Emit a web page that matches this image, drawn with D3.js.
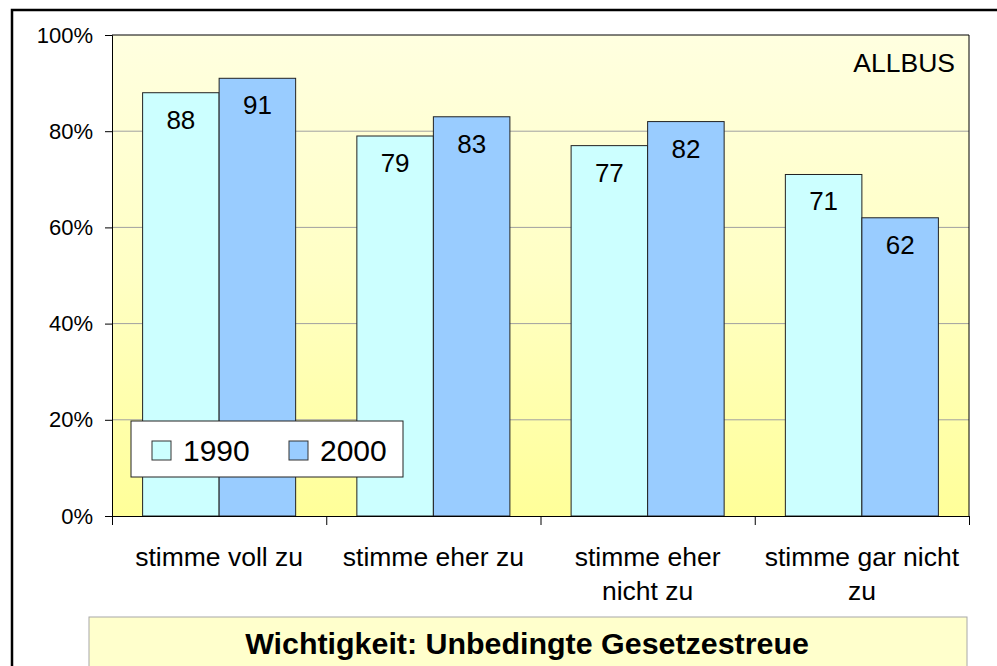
<!DOCTYPE html>
<html>
<head>
<meta charset="utf-8">
<script src="https://cdn.jsdelivr.net/npm/d3@7"></script>
<style>
  html, body { margin: 0; padding: 0; background: #fff; }
  svg { display: block; font-family: Arial, "Liberation Sans", sans-serif; }
</style>
</head>
<body>
<svg id="chart" width="997" height="666"></svg>
<script>
// Zustimmung zur unbedingten Gesetzestreue, ALLBUS 1990 und 2000 (in %)
const categories = [["stimme voll zu"], ["stimme eher zu"], ["stimme eher", "nicht zu"], ["stimme gar nicht", "zu"]];
const years = ["1990", "2000"];
const values1990 = [88, 79, 77, 71];
const values2000 = [91, 83, 82, 62];
const yTicks = [0, 20, 40, 60, 80, 100];
const sourceLabel = "ALLBUS";
const titleText = "Wichtigkeit: Unbedingte Gesetzestreue";

const colors = { "1990": "#CCFFFF", "2000": "#99CCFF" };
const seriesValues = { "1990": values1990, "2000": values2000 };

const svg = d3.select("#chart");

// Outer frame (left and top edges visible)
svg.append("rect")
  .attr("x", 12).attr("y", 10)
  .attr("width", 1100).attr("height", 800)
  .attr("fill", "none").attr("stroke", "#000").attr("stroke-width", 2.5);

const plot = { left: 112, right: 969, top: 35, bottom: 516 };

const x0 = d3.scaleBand()
  .domain(d3.range(categories.length))
  .range([plot.left, plot.right])
  .padding(0);

const x1 = d3.scaleBand()
  .domain(years)
  .range([0, x0.bandwidth()])
  .paddingInner(0)
  .paddingOuter(0.4);

const y = d3.scaleLinear().domain([0, 100]).range([plot.bottom, plot.top]);

// Background gradient of the plot area
const defs = svg.append("defs");
const grad = defs.append("linearGradient")
  .attr("id", "bg").attr("x1", 0).attr("y1", 0).attr("x2", 0).attr("y2", 1);
grad.append("stop").attr("offset", "0%").attr("stop-color", "#FFFFE0");
grad.append("stop").attr("offset", "50%").attr("stop-color", "#FFFFC4");
grad.append("stop").attr("offset", "100%").attr("stop-color", "#FFFF99");

svg.append("rect")
  .attr("x", plot.left).attr("y", plot.top)
  .attr("width", plot.right - plot.left).attr("height", plot.bottom - plot.top)
  .attr("fill", "url(#bg)");

// Horizontal grid lines
svg.append("g")
  .selectAll("line")
  .data(yTicks.filter(t => t > 0 && t < 100))
  .join("line")
  .attr("x1", plot.left).attr("x2", plot.right)
  .attr("y1", d => y(d)).attr("y2", d => y(d))
  .attr("stroke", "#A0A0A0").attr("stroke-width", 1);

// Bars
const groups = svg.append("g")
  .selectAll("g")
  .data(categories.map((c, i) => i))
  .join("g")
  .attr("transform", i => `translate(${x0(i)},0)`);

groups.selectAll("rect")
  .data(i => years.map(yr => ({ yr, v: seriesValues[yr][i] })))
  .join("rect")
  .attr("x", d => x1(d.yr))
  .attr("y", d => y(d.v))
  .attr("width", x1.bandwidth())
  .attr("height", d => y(0) - y(d.v))
  .attr("fill", d => colors[d.yr])
  .attr("stroke", "#222").attr("stroke-width", 1);

groups.selectAll("text")
  .data(i => years.map(yr => ({ yr, v: seriesValues[yr][i] })))
  .join("text")
  .attr("x", d => x1(d.yr) + x1.bandwidth() / 2)
  .attr("y", d => y(d.v) + 36)
  .attr("text-anchor", "middle")
  .attr("font-size", 26)
  .attr("fill", "#000")
  .text(d => d.v);

// Plot border (top and right)
svg.append("path")
  .attr("d", `M${plot.left},${plot.top}H${plot.right}V${plot.bottom}`)
  .attr("fill", "none").attr("stroke", "#000").attr("stroke-width", 1);

// Y axis
const yAxis = d3.axisLeft(y)
  .tickValues(yTicks)
  .tickSize(7)
  .tickPadding(12)
  .tickFormat(d => d + "%");
const gy = svg.append("g")
  .attr("transform", `translate(${plot.left},0)`)
  .call(yAxis);
gy.select(".domain").attr("stroke", "#000");
gy.selectAll(".tick line").attr("stroke", "#000");
gy.selectAll(".tick text")
  .attr("font-size", 22).attr("fill", "#000")
  .attr("font-family", "Arial, 'Liberation Sans', sans-serif");

// X axis: ticks between categories
const xBoundary = d3.scaleLinear().domain([0, categories.length]).range([plot.left, plot.right]);
const xAxis = d3.axisBottom(xBoundary)
  .tickValues(d3.range(categories.length + 1))
  .tickSize(9)
  .tickSizeOuter(0)
  .tickFormat("");
const gx = svg.append("g")
  .attr("transform", `translate(0,${plot.bottom})`)
  .call(xAxis);
gx.select(".domain").attr("stroke", "#000");
gx.selectAll(".tick line").attr("stroke", "#000");

// Category labels
svg.append("g")
  .selectAll("text")
  .data(categories)
  .join("text")
  .attr("x", (d, i) => x0(i) + x0.bandwidth() / 2)
  .attr("y", 566)
  .attr("text-anchor", "middle")
  .attr("font-size", 26.5)
  .attr("fill", "#000")
  .selectAll("tspan")
  .data(d => d)
  .join("tspan")
  .attr("x", function () { return d3.select(this.parentNode).attr("x"); })
  .attr("dy", (d, j) => j === 0 ? 0 : 34)
  .text(d => d);

// Source label
svg.append("text")
  .attr("x", 955).attr("y", 72)
  .attr("text-anchor", "end")
  .attr("font-size", 26.5)
  .attr("fill", "#000")
  .text(sourceLabel);

// Legend
const legend = svg.append("g").attr("transform", "translate(131,421)");
legend.append("rect")
  .attr("width", 272).attr("height", 56)
  .attr("fill", "#fff").attr("stroke", "#222").attr("stroke-width", 1);
const legendItems = legend.selectAll("g")
  .data(years)
  .join("g")
  .attr("transform", (d, i) => `translate(${21 + i * 137},20)`);
legendItems.append("rect")
  .attr("width", 19).attr("height", 19)
  .attr("fill", d => colors[d]).attr("stroke", "#333").attr("stroke-width", 1);
legendItems.append("text")
  .attr("x", 31).attr("y", 20)
  .attr("font-size", 30)
  .attr("fill", "#000")
  .text(d => d);

// Title box
svg.append("rect")
  .attr("x", 89).attr("y", 617)
  .attr("width", 878).attr("height", 80)
  .attr("fill", "#FFFFCC").attr("stroke", "#A8A8A8").attr("stroke-width", 1);
svg.append("text")
  .attr("x", (89 + 967) / 2 - 1).attr("y", 654)
  .attr("text-anchor", "middle")
  .attr("font-size", 30.4)
  .attr("font-weight", "bold")
  .attr("fill", "#000")
  .text(titleText);
</script>
</body>
</html>
